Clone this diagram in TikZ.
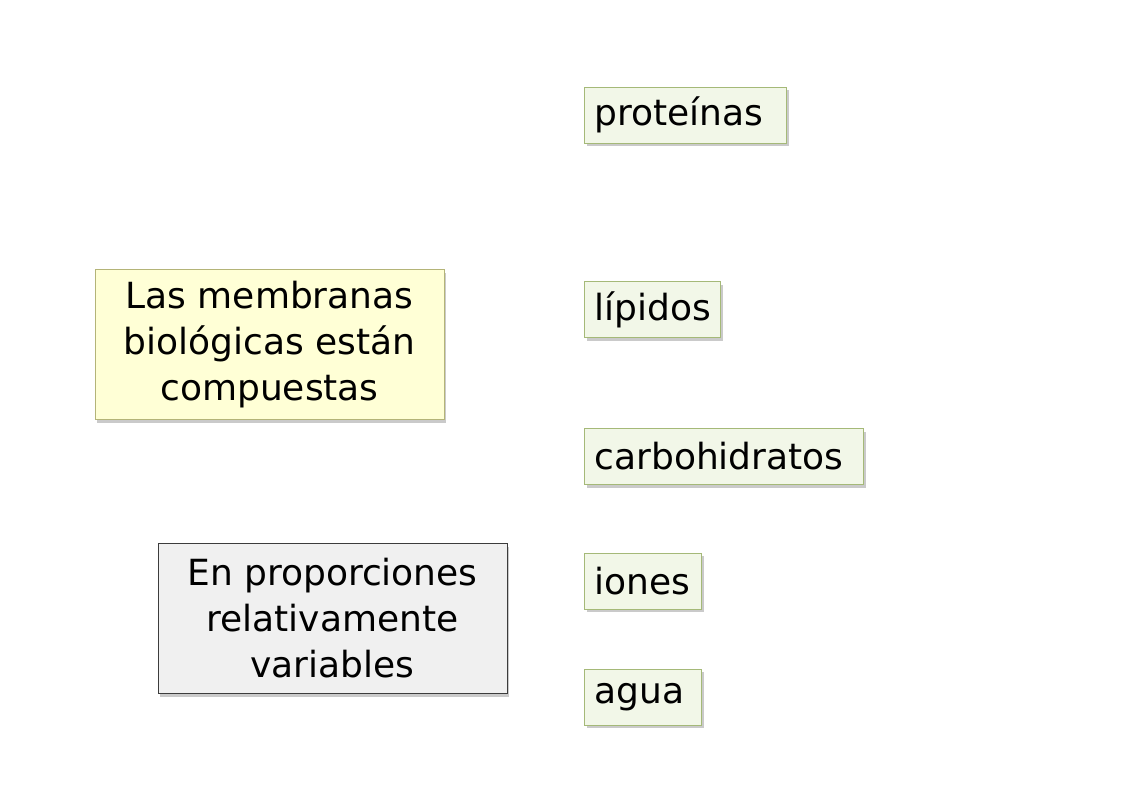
\documentclass[tikz,border=0pt]{standalone}
\usepackage{fontspec}
\setmainfont{DejaVu Sans}
\usetikzlibrary{shadows}
\definecolor{yfill}{RGB}{255,255,214}
\definecolor{ydraw}{RGB}{180,180,120}
\definecolor{gfill}{RGB}{240,240,240}
\definecolor{gdraw}{RGB}{60,60,60}
\definecolor{sfill}{RGB}{242,247,232}
\definecolor{sdraw}{RGB}{165,185,120}
\tikzset{
  shad/.style={drop shadow={shadow xshift=2pt,shadow yshift=-3pt,opacity=0.35,fill=black!60}},
  bigbox/.style={shad,draw,line width=1pt,minimum width=349pt,minimum height=150pt,align=center,inner sep=0pt,font=\fontsize{36}{46}\selectfont},
  smallbox/.style={shad,fill=sfill,draw=sdraw,line width=1pt,anchor=west,minimum height=56pt,inner xsep=10pt,inner ysep=0pt,align=left,font=\fontsize{36}{40}\selectfont},
}
\begin{document}
\begin{tikzpicture}[x=1pt,y=-1pt]
\useasboundingbox (0,0) rectangle (1122,793);
\node[bigbox,fill=yfill,draw=ydraw] (comp) at (269.5,344.5) {Las membranas\\biológicas están\\compuestas};
\node[bigbox,fill=gfill,draw=gdraw] (prop) at (332.5,618.5) {En proporciones\\relativamente\\variables};
\node[smallbox,text width=182pt] (prot) at (584,115) {proteínas};
\node[smallbox,text width=116pt] (lip) at (584,309.5) {lípidos};
\node[smallbox,text width=259pt] (carb) at (584,456.5) {carbohidratos};
\node[smallbox,text width=97pt] (ion) at (584,581) {iones};
\node[smallbox,text width=97pt] (agua) at (584,697) {agua};
\end{tikzpicture}
\end{document}
